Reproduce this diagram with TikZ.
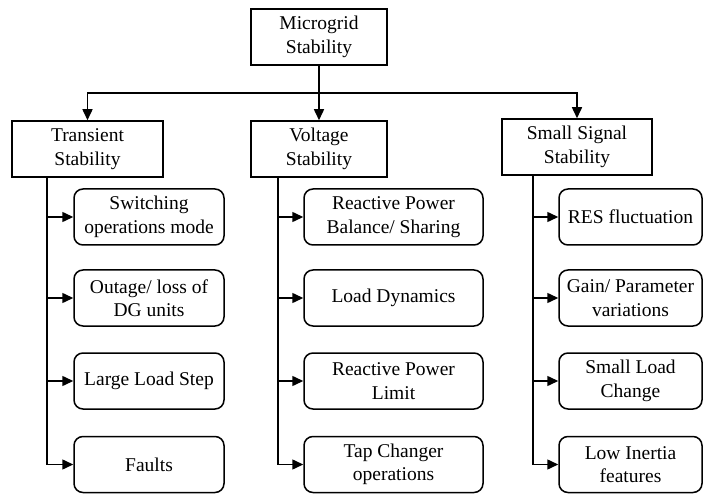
\documentclass[tikz,border=0pt]{standalone}
\usepackage{fontspec}
\setmainfont{Liberation Serif}
\usetikzlibrary{arrows.meta}
\begin{document}
\begin{tikzpicture}[x=1pt,y=-1pt,
  box/.style={draw,line width=1.5pt,minimum height=56pt,align=center,inner sep=0pt,
    font=\fontsize{19.5}{23.5}\selectfont},
  rbox/.style={box,rounded corners=9pt},
  arr/.style={line width=1.5pt,-{Triangle[length=11pt,width=10pt]}},
  ln/.style={line width=1.5pt}]
\useasboundingbox (0,0) rectangle (704,494);
% root
\node[box,minimum width=136pt] (top) at (319,37) {Microgrid\\Stability};
% level 1
\node[box,minimum width=151pt] (ts) at (87.5,149) {Transient\\Stability};
\node[box,minimum width=136pt] (vs) at (319,149) {Voltage\\Stability};
\node[box,minimum width=150pt] (ss) at (577,147) {Small Signal\\Stability};
% bus
\coordinate (bus) at (319,93);
\draw[ln] (top.south) -- (bus);
\draw[arr] (bus) -| (ts.north);
\draw[arr] (bus) -- (vs.north);
\draw[arr] (bus) -| (ss.north);
% transient children
\node[rbox,minimum width=150pt] (t1) at (149,217) {Switching\\operations mode};
\node[rbox,minimum width=150pt] (t2) at (149,298) {Outage/ loss of\\DG units};
\node[rbox,minimum width=150pt] (t3) at (149,381) {Large Load Step};
\node[rbox,minimum width=150pt] (t4) at (149,464.5) {Faults};
% voltage children
\node[rbox,minimum width=179pt] (v1) at (393.5,217) {Reactive Power\\Balance/ Sharing};
\node[rbox,minimum width=179pt] (v2) at (393.5,298) {Load Dynamics};
\node[rbox,minimum width=179pt] (v3) at (393.5,381) {Reactive Power\\Limit};
\node[rbox,minimum width=179pt] (v4) at (393.5,464.5) {Tap Changer\\operations};
% small signal children
\node[rbox,minimum width=143pt] (s1) at (630.5,217) {RES fluctuation};
\node[rbox,minimum width=143pt] (s2) at (630.5,298) {Gain/ Parameter\\variations};
\node[rbox,minimum width=143pt] (s3) at (630.5,381) {Small Load\\Change};
\node[rbox,minimum width=143pt] (s4) at (630.5,464.5) {Low Inertia\\features};
% trunks
\coordinate (tt) at (47,177);
\coordinate (vt) at (278,177);
\coordinate (st) at (533,175);
\foreach \c in {t1,t2,t3,t4} \draw[arr] (tt) |- (\c.west);
\foreach \c in {v1,v2,v3,v4} \draw[arr] (vt) |- (\c.west);
\foreach \c in {s1,s2,s3,s4} \draw[arr] (st) |- (\c.west);
\end{tikzpicture}
\end{document}
